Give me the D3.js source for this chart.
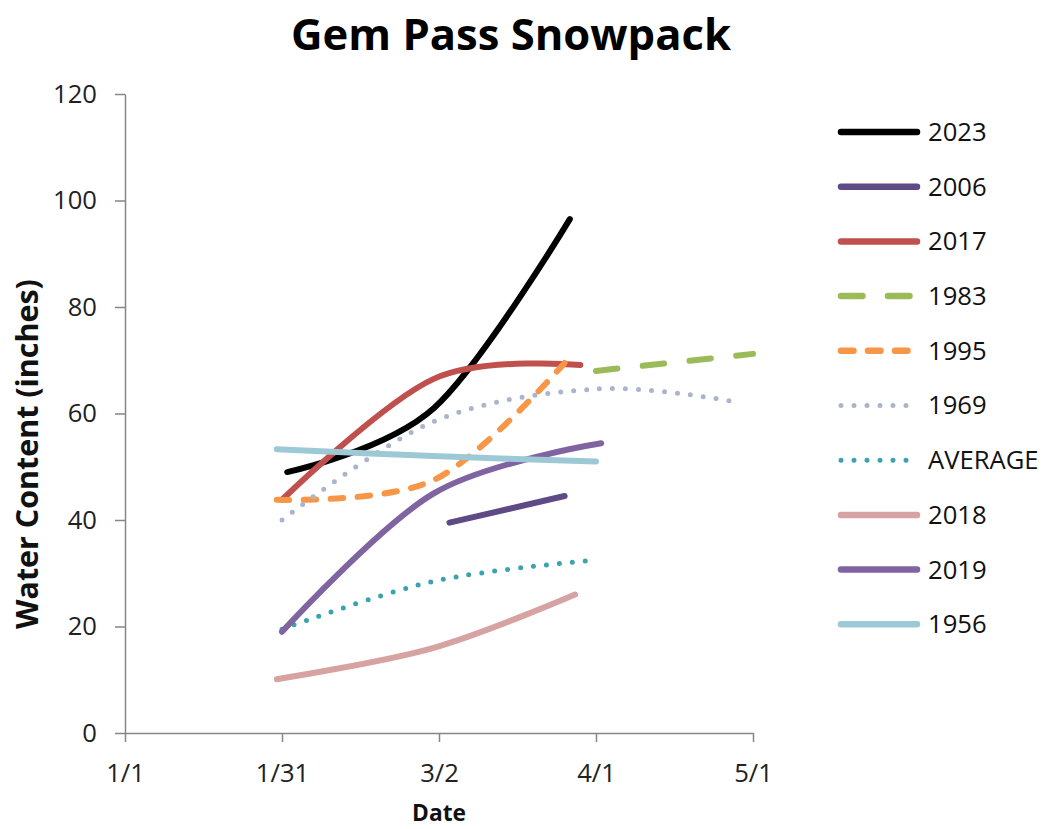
<!DOCTYPE html>
<html>
<head>
<meta charset="utf-8">
<script src="https://cdn.jsdelivr.net/npm/d3@7"></script>
<style>
  body { margin: 0; background: #fff; }
  svg { display: block; font-family: "Open Sans", sans-serif; }
</style>
</head>
<body>
<svg id="chart" width="1054" height="829"></svg>
<script>
// Gem Pass snowpack, water content by date
const seriesNames = ["2023", "2006", "2017", "1983", "1995", "1969", "AVERAGE", "2018", "2019", "1956"];

const dates2023 = ["2023-02-01", "2023-03-01", "2023-03-27"];
const swe2023 = [49, 61, 96.5];
const dates2006 = ["2023-03-04", "2023-03-26"];
const swe2006 = [39.5, 44.5];
const dates2017 = ["2023-01-31", "2023-03-01", "2023-03-29"];
const swe2017 = [43.8, 66.5, 69.1];
const dates1983 = ["2023-04-01", "2023-05-01"];
const swe1983 = [68, 71.2];
const dates1995 = ["2023-01-30", "2023-03-01", "2023-03-26"];
const swe1995 = [43.8, 47.5, 69.5];
const dates1969 = ["2023-01-31", "2023-03-01", "2023-04-01", "2023-04-27"];
const swe1969 = [40, 58.5, 64.6, 62.3];
const datesAvg = ["2023-01-31", "2023-03-01", "2023-03-31"];
const sweAvg = [19.5, 28.5, 32.4];
const dates2018 = ["2023-01-30", "2023-03-01", "2023-03-28"];
const swe2018 = [10.1, 16, 26];
const dates2019 = ["2023-01-31", "2023-03-01", "2023-04-02"];
const swe2019 = [19, 45, 54.4];
const dates1956 = ["2023-01-30", "2023-03-01", "2023-04-01"];
const swe1956 = [53.3, 52, 51];

const xTickDates = ["2023-01-01", "2023-01-31", "2023-03-02", "2023-04-01", "2023-05-01"];
const yTicks = [0, 20, 40, 60, 80, 100, 120];

// styles, kept apart from the values
const colors = ["#000000", "#5e4b85", "#c0504d", "#9bbb59", "#f79646", "#aab5cc", "#3aa3ad", "#d6a3a2", "#8064a2", "#9dc8d6"];
const dashes = [null, null, null, "21.5 25.5", "12.5 14.5", "0 13", "0 13", null, null, null];

const parse = d3.timeParse("%Y-%m-%d");
const allDates = [dates2023, dates2006, dates2017, dates1983, dates1995, dates1969, datesAvg, dates2018, dates2019, dates1956];
const allSwe = [swe2023, swe2006, swe2017, swe1983, swe1995, swe1969, sweAvg, swe2018, swe2019, swe1956];

const series = seriesNames.map((name, i) => ({
  name,
  color: colors[i],
  dash: dashes[i],
  dotted: dashes[i] && dashes[i].startsWith("0"),
  points: allDates[i].map((d, j) => ({ date: parse(d), value: allSwe[i][j] }))
}));

const svg = d3.select("#chart");

const x = d3.scaleTime()
  .domain([parse(xTickDates[0]), parse(xTickDates[xTickDates.length - 1])])
  .range([125, 753]);
const y = d3.scaleLinear().domain([0, 120]).range([733, 94]);

// base font size: fit "120" to ~44px like the reference
const probe = svg.append("text").attr("font-size", 100).text("120");
const baseSize = 100 * 44 / probe.node().getComputedTextLength();
probe.remove();

function fitTo(sel, w) {
  const len = sel.node().getComputedTextLength();
  sel.attr("font-size", +sel.attr("font-size") * w / len);
}

const axisColor = "#868686";

// x axis
const xAxis = svg.append("g")
  .attr("transform", `translate(0,${y(0)})`)
  .call(d3.axisBottom(x)
    .tickValues(xTickDates.map(parse))
    .tickFormat(d3.timeFormat("%-m/%-d"))
    .tickSize(9)
    .tickSizeOuter(0));
xAxis.select(".domain").attr("stroke", axisColor).attr("stroke-width", 1.5);
xAxis.selectAll(".tick line").attr("stroke", axisColor).attr("stroke-width", 1.5);
xAxis.selectAll(".tick text")
  .attr("y", 49).attr("dy", null)
  .attr("font-size", baseSize)
  .attr("font-family", "Open Sans, sans-serif")
  .attr("fill", "#222");

// y axis
const yAxis = svg.append("g")
  .attr("transform", `translate(${x.range()[0]},0)`)
  .call(d3.axisLeft(y).tickValues(yTicks).tickSize(10).tickPadding(18).tickSizeOuter(0));
yAxis.select(".domain").attr("stroke", axisColor).attr("stroke-width", 1.5);
yAxis.selectAll(".tick line").attr("stroke", axisColor).attr("stroke-width", 1.5);
yAxis.selectAll(".tick text")
  .attr("font-size", baseSize)
  .attr("font-family", "Open Sans, sans-serif")
  .attr("fill", "#222");

// lines
const line = d3.line()
  .x(d => x(d.date))
  .y(d => y(d.value))
  .curve(d3.curveCardinal.tension(0));

svg.append("g")
  .selectAll("path")
  .data(series)
  .join("path")
  .attr("d", d => line(d.points))
  .attr("fill", "none")
  .attr("stroke", d => d.color)
  .attr("stroke-width", d => d.dotted ? 5 : 6)
  .attr("stroke-linecap", "round")
  .attr("stroke-linejoin", "round")
  .attr("stroke-dasharray", d => d.dash);

// legend
const legend = svg.append("g")
  .selectAll("g")
  .data(series)
  .join("g")
  .attr("transform", (d, i) => `translate(0,${132 + i * 54.7})`);

legend.append("path")
  .attr("d", "M841,0H917")
  .attr("fill", "none")
  .attr("stroke", d => d.color)
  .attr("stroke-width", d => d.dotted ? 5 : 6.5)
  .attr("stroke-linecap", "round")
  .attr("stroke-dasharray", d => d.dash);

legend.append("text")
  .attr("x", 928)
  .attr("dy", "0.35em")
  .attr("font-size", baseSize)
  .attr("fill", "#111")
  .text(d => d.name);

// titles
const title = svg.append("text")
  .attr("x", 511)
  .attr("y", 50)
  .attr("text-anchor", "middle")
  .attr("font-weight", "bold")
  .attr("font-size", 44)
  .attr("fill", "#000")
  .text("Gem Pass Snowpack");
fitTo(title, 440);

const xTitle = svg.append("text")
  .attr("x", 439)
  .attr("y", 821)
  .attr("text-anchor", "middle")
  .attr("font-weight", "bold")
  .attr("font-size", 20)
  .attr("fill", "#111")
  .text("Date");
fitTo(xTitle, 54);

const yTitle = svg.append("text")
  .attr("transform", "translate(38,454) rotate(-90)")
  .attr("text-anchor", "middle")
  .attr("font-weight", "bold")
  .attr("font-size", 22)
  .attr("fill", "#111")
  .text("Water Content (inches)");
fitTo(yTitle, 350);
</script>
</body>
</html>
